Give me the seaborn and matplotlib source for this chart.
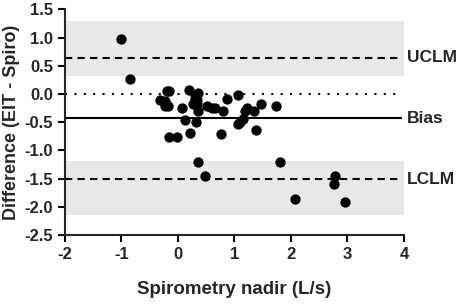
import numpy as np
import pandas as pd
import seaborn as sns
import matplotlib
matplotlib.use('Agg')
import matplotlib.pyplot as plt

# values
spiro_nadir = [-1.01, -0.85, -0.20, -0.15, -0.32, -0.23, -0.23, -0.18, -0.15, -0.01,
               0.08, 0.12, 0.20, 0.21, 0.30, 0.36, 0.30, 0.34, 0.27, 0.33, 0.36, 0.32,
               0.51, 0.60, 0.65, 0.79, 0.76, 0.87, 1.07, 1.06, 1.10, 1.15, 1.19, 1.22,
               1.35, 1.39, 1.47, 1.73, 0.35, 0.48, 1.81, 2.08, 2.78, 2.77, 2.96]
difference = [0.97, 0.26, 0.05, 0.05, -0.11, -0.12, -0.21, -0.21, -0.76, -0.77,
              -0.24, -0.46, 0.07, -0.70, -0.01, 0.02, -0.09, -0.11, -0.18, -0.18, -0.30, -0.49,
              -0.21, -0.24, -0.24, -0.30, -0.71, -0.09, -0.01, -0.54, -0.49, -0.45, -0.30, -0.25,
              -0.30, -0.63, -0.18, -0.22, -1.20, -1.45, -1.20, -1.87, -1.45, -1.60, -1.91]

bias = -0.43
uclm = 0.64
lclm = -1.51
upper_band = (0.32, 1.29)
lower_band = (-2.15, -1.19)
line_labels = ['UCLM', 'Bias', 'LCLM']

df = pd.DataFrame({'x': spiro_nadir, 'y': difference})

sns.set_style('ticks')
plt.rcParams['font.family'] = ['Liberation Sans', 'DejaVu Sans']
plt.rcParams['font.weight'] = 'bold'
plt.rcParams['axes.unicode_minus'] = False

fig = plt.figure(figsize=(4.57, 3.04), dpi=100)
ax = fig.add_axes([0.142, 0.227, 0.742, 0.742])

ax.fill_between([-2, 4], *upper_band, color='#e8e8e8', lw=0, zorder=0)
ax.fill_between([-2, 4], *lower_band, color='#e8e8e8', lw=0, zorder=0)
ax.hlines(0, -2, 3.92, colors='black', linestyles=(0, (1, 3.5)), lw=1.5, zorder=1)
ax.hlines([uclm, lclm], -2, 3.92, colors='black', linestyles=(0, (3.5, 2.5)), lw=1.5, zorder=1)
ax.hlines(bias, -2, 3.97, colors='black', lw=1.5, zorder=1)

sns.scatterplot(data=df, x='x', y='y', color='black', s=55, edgecolor='black',
                linewidth=0, ax=ax, zorder=3, clip_on=False)

for lab, yv in zip(line_labels, [uclm, bias, lclm]):
    ax.text(4.05, yv, lab, va='center', ha='left', fontsize=12.5, fontweight='bold',
            clip_on=False)

ax.set_xlim(-2, 4)
ax.set_ylim(-2.5, 1.5)
ax.set_xticks([-2, -1, 0, 1, 2, 3, 4])
ax.set_yticks(np.arange(-2.5, 1.51, 0.5))
ax.set_yticklabels([f'{v:.1f}' for v in np.arange(-2.5, 1.51, 0.5)])
ax.set_xlabel('Spirometry nadir (L/s)', fontsize=13.5, fontweight='bold', labelpad=14)
ax.set_ylabel('Difference (EIT - Spiro)', fontsize=13, fontweight='bold', labelpad=3)
ax.tick_params(labelsize=12, width=1.5, length=5, color='black')
for lbl in ax.get_xticklabels() + ax.get_yticklabels():
    lbl.set_fontweight('bold')
for side in ['left', 'bottom']:
    ax.spines[side].set_linewidth(1.5)
sns.despine(ax=ax)

fig.savefig('out.png', dpi=100)
